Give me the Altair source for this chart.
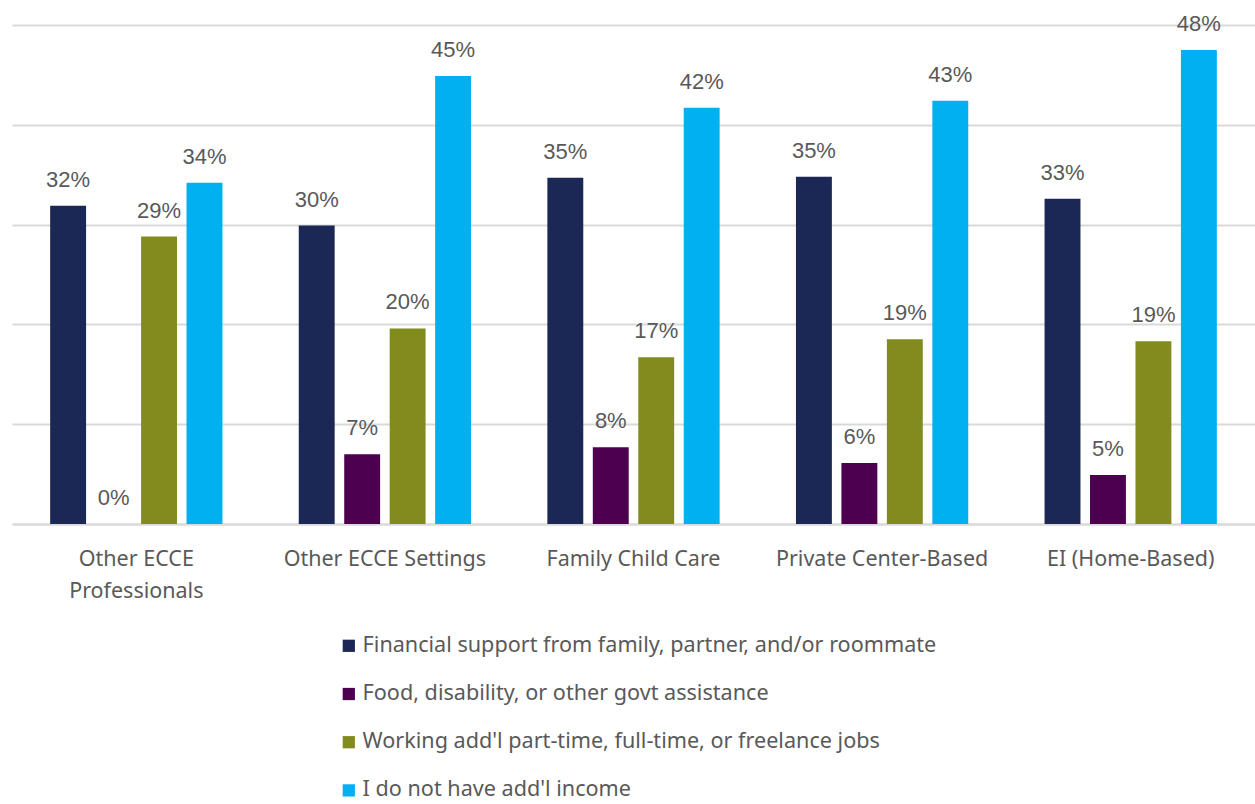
import altair as alt
import pandas as pd

categories = ["Other ECCE|Professionals", "Other ECCE Settings", "Family Child Care",
              "Private Center-Based", "EI (Home-Based)"]
series = ["Financial support from family, partner, and/or roommate",
          "Food, disability, or other govt assistance",
          "Working add'l part-time, full-time, or freelance jobs",
          "I do not have add'l income"]
colors = ["#1b2754", "#4d004f", "#828b1e", "#00b0f0"]
# bar heights
values = {
    series[0]: [31.9, 29.9, 34.7, 34.8, 32.6],
    series[1]: [0.0, 7.0, 7.7, 6.1, 4.9],
    series[2]: [28.8, 19.6, 16.7, 18.5, 18.3],
    series[3]: [34.2, 44.9, 41.7, 42.4, 47.5],
}
# data labels as printed in the picture
labels_txt = {
    series[0]: ["32%", "30%", "35%", "35%", "33%"],
    series[1]: ["0%", "7%", "8%", "6%", "5%"],
    series[2]: ["29%", "20%", "17%", "19%", "19%"],
    series[3]: ["34%", "45%", "42%", "43%", "48%"],
}

rows = []
for s in series:
    for c, v, t in zip(categories, values[s], labels_txt[s]):
        rows.append({"category": c, "series": s, "value": v, "label": t})
df = pd.DataFrame(rows)

x = alt.X("category:N", sort=categories, title=None,
          scale=alt.Scale(paddingInner=0.307, paddingOuter=0.1535),
          axis=alt.Axis(labelAngle=0, labelExpr="split(datum.label, '|')",
                        labelFont="Noto Sans", labelFontSize=21.5, labelColor="#595959",
                        labelLineHeight=32, labelPadding=24, ticks=False, labelLimit=400,
                        domainColor="#d9d9d9", domainWidth=2, labelBaseline="top"))
xo = alt.XOffset("series:N", sort=series,
                 scale=alt.Scale(paddingInner=0.21, paddingOuter=0))
y = alt.Y("value:Q", title=None, scale=alt.Scale(domain=[0, 50]),
          axis=alt.Axis(values=[0, 10, 20, 30, 40, 50], labels=False, ticks=False,
                        domain=False, gridColor="#d9d9d9", gridWidth=2))

bars = alt.Chart(df).mark_bar().encode(
    x=x, xOffset=xo, y=y,
    color=alt.Color("series:N", sort=series,
                    scale=alt.Scale(domain=series, range=colors),
                    legend=alt.Legend(title=None, orient="none", legendX=326, legendY=610,
                                      direction="vertical", symbolType="square",
                                      symbolSize=150, symbolStrokeWidth=0,
                                      labelFont="Noto Sans", labelFontSize=21.6,
                                      labelColor="#595959", rowPadding=25.2,
                                      labelOffset=3, labelLimit=800)),
)

labels = alt.Chart(df).mark_text(
    font="Liberation Sans", fontSize=22, color="#595959", baseline="alphabetic", dy=-19
).encode(x=x, xOffset=xo, y=y, text="label:N")

chart = (bars + labels).properties(
    width=1243, height=499,
    autosize=alt.AutoSizeParams(type="none"),
    padding={"left": 12, "top": 25, "right": 0, "bottom": 280},
).configure_view(stroke=None)

chart.save("out.html", embed_options={"renderer": "svg", "actions": False})
